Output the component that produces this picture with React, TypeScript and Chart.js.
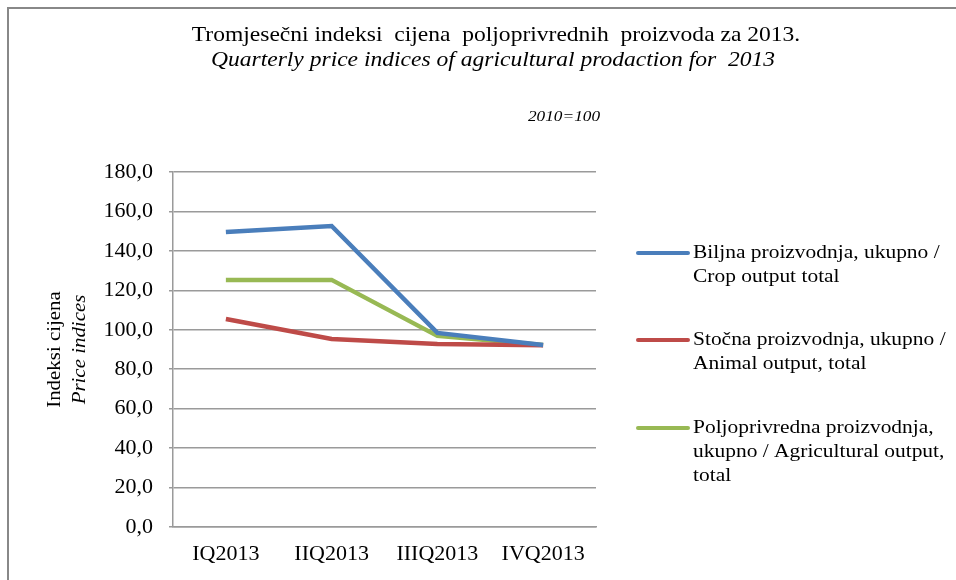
import React, { useEffect, useRef } from "react";
import { Chart, registerables } from "chart.js";

Chart.register(...registerables);

const categories = ["IQ2013", "IIQ2013", "IIIQ2013", "IVQ2013"];
const cropValues = [149.6, 152.6, 98.4, 92.3];
const animalValues = [105.5, 95.3, 92.8, 92.1];
const agriValues = [125.3, 125.3, 96.9, 92.3];
const seriesLabels = [
  "Biljna proizvodnja, ukupno / Crop output total",
  "Stočna proizvodnja, ukupno / Animal output, total",
  "Poljoprivredna proizvodnja, ukupno / Agricultural output, total",
];
const legendLines = [
  ["Biljna proizvodnja, ukupno /", "Crop output total"],
  ["Stočna proizvodnja, ukupno /", "Animal output, total"],
  ["Poljoprivredna proizvodnja,", "ukupno / Agricultural output,", "total"],
];
const seriesColors = ["#4a7ebb", "#be4b48", "#98b954"];
const titleLine1 = "Tromjesečni indeksi  cijena  poljoprivrednih  proizvoda za 2013.";
const titleLine2 = "Quarterly price indices of agricultural prodaction for  2013";
const baseNote = "2010=100";
const yTitle1 = "Indeksi cijena";
const yTitle2 = "Price indices";
const yMin = 0;
const yMax = 180;
const yStep = 20;

const SERIF = "'Liberation Serif', 'Times New Roman', serif";

function drawText(
  ctx: CanvasRenderingContext2D,
  text: string,
  x: number,
  y: number,
  font: string,
  sx: number,
  align: CanvasTextAlign
) {
  ctx.save();
  ctx.font = font;
  ctx.textAlign = align;
  ctx.textBaseline = "middle";
  ctx.translate(x, y);
  ctx.scale(sx, 1);
  ctx.fillText(text, 0, 0);
  ctx.restore();
}

const decorPlugin = {
  id: "decor",
  beforeDraw(chart: any) {
    const ctx = chart.ctx;
    ctx.save();
    ctx.fillStyle = "#ffffff";
    ctx.fillRect(0, 0, chart.width, chart.height);
    ctx.restore();
  },
  afterDraw(chart: any) {
    const ctx = chart.ctx;
    const area = chart.chartArea;
    ctx.save();
    ctx.strokeStyle = "#888888";
    ctx.lineWidth = 2;
    ctx.beginPath();
    ctx.moveTo(8, chart.height);
    ctx.lineTo(8, 8);
    ctx.lineTo(chart.width, 8);
    ctx.stroke();

    ctx.fillStyle = "#000";
    drawText(ctx, titleLine1, 496, 35, `22px ${SERIF}`, 1.07, "center");
    drawText(ctx, titleLine2, 493, 60, `italic 22px ${SERIF}`, 1.07, "center");
    drawText(ctx, baseNote, 564, 117, `italic 15px ${SERIF}`, 1.15, "center");

    const midY = (area.top + area.bottom) / 2;
    ctx.save();
    ctx.translate(55, midY);
    ctx.rotate(-Math.PI / 2);
    drawText(ctx, yTitle1, 0, 0, `19px ${SERIF}`, 1.1, "center");
    ctx.restore();
    ctx.save();
    ctx.translate(80, midY);
    ctx.rotate(-Math.PI / 2);
    drawText(ctx, yTitle2, 0, 0, `italic 19px ${SERIF}`, 1.1, "center");
    ctx.restore();

    const startYs = [253, 340, 428];
    const lineH = 24;
    chart.data.datasets.forEach((ds: any, i: number) => {
      const y0 = startYs[i];
      ctx.strokeStyle = ds.borderColor;
      ctx.lineWidth = 4;
      ctx.lineCap = "round";
      ctx.beginPath();
      ctx.moveTo(638, y0);
      ctx.lineTo(688, y0);
      ctx.stroke();
      ctx.fillStyle = "#000";
      legendLines[i].forEach((t, j) =>
        drawText(ctx, t, 693, y0 + j * lineH, `19.5px ${SERIF}`, 1.1, "left")
      );
    });
    ctx.restore();
  },
};

export default function App() {
  const ref = useRef<HTMLCanvasElement>(null);
  useEffect(() => {
    document.body.style.margin = "0";
    const values = [cropValues, animalValues, agriValues];
    const chart = new Chart(ref.current!, {
      type: "line",
      data: {
        labels: categories,
        datasets: values.map((v, i) => ({
          label: seriesLabels[i],
          data: v,
          borderColor: seriesColors[i],
          backgroundColor: seriesColors[i],
          borderWidth: 4.5,
          pointRadius: 0,
          tension: 0,
          fill: false,
        })),
      },
      options: {
        animation: false,
        responsive: false,
        devicePixelRatio: 1,
        layout: { padding: { top: 172, right: 360, bottom: 0, left: 0 } },
        plugins: {
          legend: { display: false },
          title: { display: false },
          tooltip: { enabled: false },
        },
        scales: {
          x: {
            offset: true,
            grid: { display: false, drawTicks: false },
            border: { display: true, color: "#9a9a9a", width: 1.5 },
            ticks: {
              color: "#000",
              font: { family: SERIF, size: 22 },
              padding: 14,
              maxRotation: 0,
              autoSkip: false,
            },
            afterFit: (s: any) => {
              s.height = 53;
              s.paddingLeft = 0;
              s.paddingRight = 0;
            },
          },
          y: {
            min: yMin,
            max: yMax,
            grid: { color: "#9a9a9a", lineWidth: 1.5, tickLength: 4 },
            border: { display: true, color: "#9a9a9a", width: 1.5 },
            ticks: {
              stepSize: yStep,
              color: "#000",
              font: { family: SERIF, size: 22 },
              padding: 16,
              callback: (v: any) => Number(v).toFixed(1).replace(".", ","),
            },
            afterFit: (s: any) => {
              s.width = 173;
              s.paddingTop = 0;
              s.paddingBottom = 0;
            },
          },
        },
      },
      plugins: [decorPlugin],
    });
    return () => chart.destroy();
  }, []);
  return <canvas ref={ref} width={956} height={580} style={{ display: "block" }} />;
}
